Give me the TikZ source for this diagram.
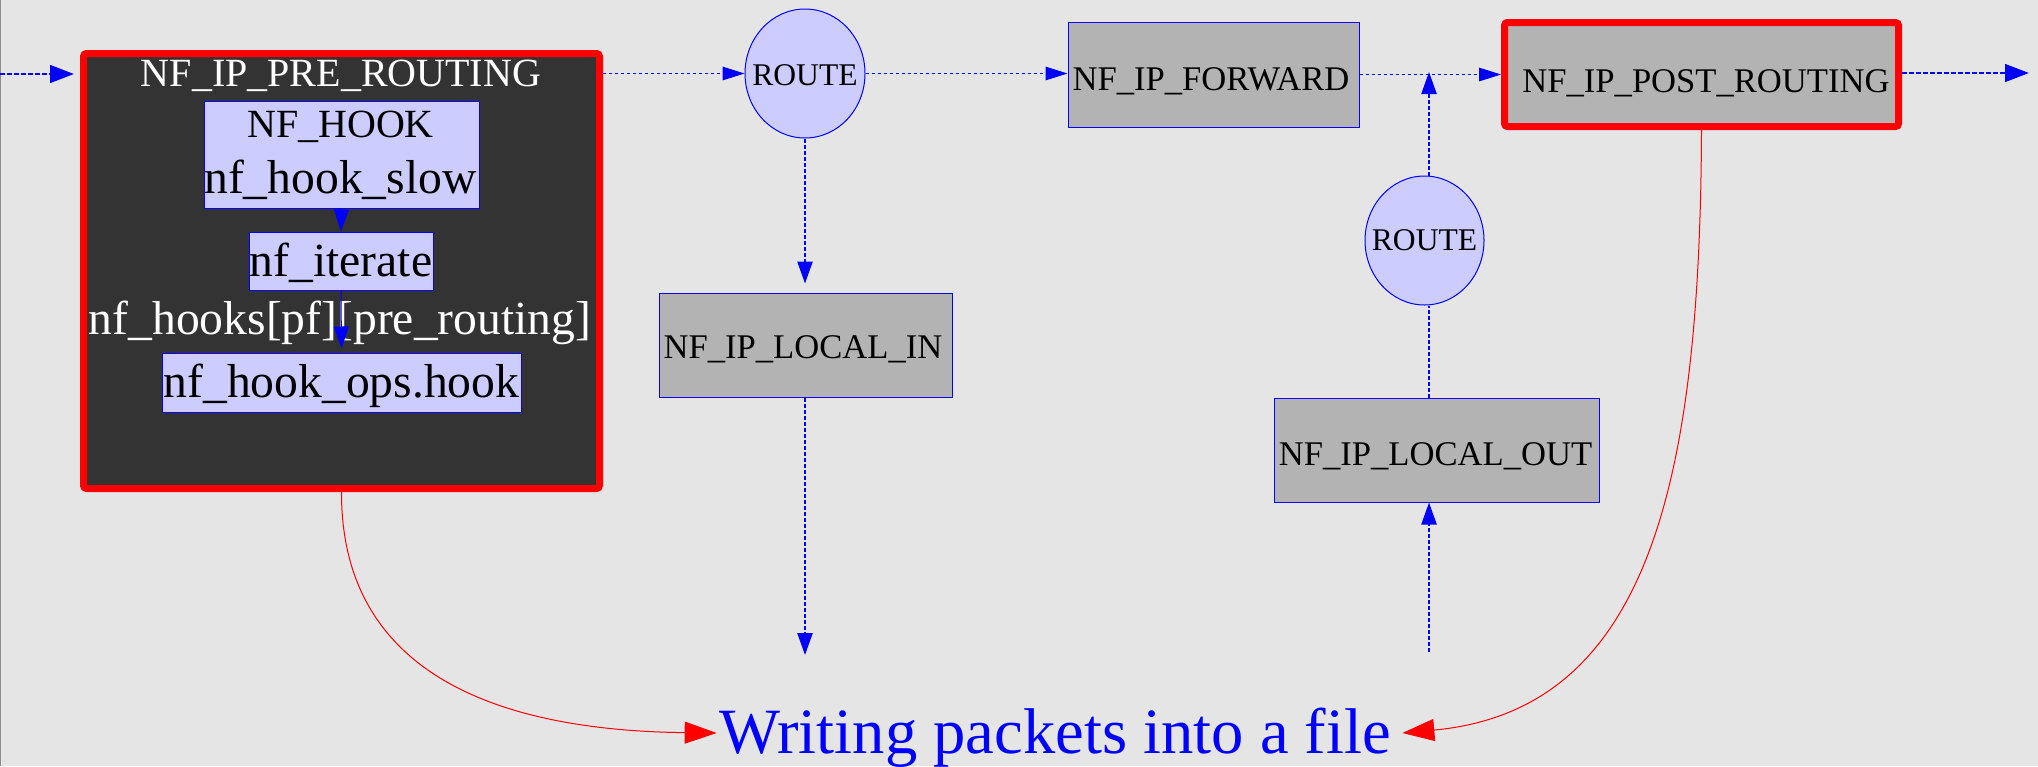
\documentclass[tikz,border=0pt]{standalone}
\usepackage{fontspec}
\setmainfont{Liberation Serif}
\usetikzlibrary{arrows.meta,shapes.geometric}

\definecolor{canvas}{HTML}{E5E5E5}
\definecolor{clusterfill}{HTML}{333333}
\definecolor{callfill}{HTML}{CCCCFF}
\definecolor{hookfill}{HTML}{B3B3B3}
\definecolor{edgegray}{HTML}{8C8C8C}

\newcommand{\fsz}[1]{\fontsize{#1pt}{#1pt}\selectfont}

\tikzset{
  hookbox/.style={rectangle, draw=blue, line width=0.5pt, fill=hookfill, inner sep=0pt},
  callbox/.style={rectangle, draw=blue, line width=0.5pt, fill=callfill, inner sep=0pt},
  routenode/.style={ellipse, draw=blue, line width=0.5pt, fill=callfill, inner sep=0pt,
                    minimum width=60pt, minimum height=64.5pt},
  hotframe/.style={rectangle, draw=red, line width=3.5pt, rounded corners=1.5pt, inner sep=0pt},
  txt/.style={inner sep=0pt, anchor=base},
  flow/.style={blue, line width=0.5pt, dash pattern=on 1.7pt off 1.3pt,
               -{Triangle[length=11pt,width=6.8pt]}},
  vflow/.style={blue, line width=0.9pt, dash pattern=on 2pt off 1pt,
                -{Triangle[length=11pt,width=7.6pt]}},
  vlink/.style={blue, line width=0.9pt, dash pattern=on 2pt off 1pt},
  boundary/.style={blue, line width=1.35pt, dash pattern=on 2.3pt off 1.2pt,
                   -{Triangle[length=12pt,width=8.8pt]}},
  callflow/.style={blue, line width=0.5pt, -{Triangle[length=11pt,width=7.5pt]}},
  dump/.style={red, line width=0.5pt, -{Triangle[length=16pt,width=11pt]}},
}

\begin{document}
\begin{tikzpicture}[x=0.5pt, y=-0.5pt]
  % canvas
  \fill[canvas] (0,0) rectangle (2038,766);
  \useasboundingbox (0,0) rectangle (2038,766);
  \draw[edgegray, line width=0.6pt] (0.6,0) -- (0.6,766);

  % pre-routing cluster with its call chain
  \node[hotframe, fill=clusterfill, minimum width=258pt, minimum height=217.5pt] (pre) at (341.5,271) {};
  \node[txt, text=white, font=\fsz{20}] (pre-title) at (341,86.7) {NF\_IP\_PRE\_ROUTING};

  \node[callbox, minimum width=137.5pt, minimum height=53.5pt] (hook) at (341.5,154.5) {};
  \node[txt, font=\fsz{20}] (hook-a) at (340.5,137.7) {NF\_HOOK};
  \node[txt, font=\fsz{23.8}] (hook-b) at (340.5,193.3) {nf\_hook\_slow};

  \node[callbox, minimum width=92pt, minimum height=29pt] (iter) at (341,261) {};
  \node[txt, font=\fsz{23.8}] (iter-t) at (341,276.7) {nf\_iterate};

  \node[callbox, minimum width=179.5pt, minimum height=29.5pt] (ops) at (341.5,382.5) {};
  \node[txt, font=\fsz{23.8}] (ops-t) at (341.5,397) {nf\_hook\_ops.hook};

  \node[txt, text=white, font=\fsz{23.8}] (hooks-lbl) at (340,334) {nf\_hooks[pf][pre\_routing]};

  \draw[callflow] (hook.south) -- (iter.north);
  \draw[callflow, shorten >=2pt] (iter.south) -- (ops.north);

  % routing decisions
  \node[routenode] (r1) at (805,73.5) {};
  \node[txt, font=\fsz{15.8}] (r1-t) at (805,85) {ROUTE};
  \node[routenode, minimum width=59.5pt] (r2) at (1424.5,240.5) {};
  \node[txt, font=\fsz{15.8}] (r2-t) at (1424.5,250) {ROUTE};

  % hooks
  \node[hookbox, minimum width=145.5pt, minimum height=52.5pt] (fwd) at (1213.5,74.5) {};
  \node[txt, font=\fsz{17.3}] (fwd-t) at (1211,90) {NF\_IP\_FORWARD};

  \node[hookbox, minimum width=146.5pt, minimum height=52pt] (lin) at (805.5,345) {};
  \node[txt, font=\fsz{17.3}] (lin-t) at (803,358.3) {NF\_IP\_LOCAL\_IN};

  \node[hookbox, minimum width=162.5pt, minimum height=52pt] (lout) at (1436.5,450) {};
  \node[txt, font=\fsz{17.3}] (lout-t) at (1435.5,465) {NF\_IP\_LOCAL\_OUT};

  \node[hotframe, fill=hookfill, minimum width=197pt, minimum height=52pt] (post) at (1701.5,74.5) {};
  \node[txt, font=\fsz{17.3}] (post-t) at (1706,92) {NF\_IP\_POST\_ROUTING};

  % capture target
  \node[txt, text=blue, font=\fsz{32.3}] (dumpfile) at (1055,753) {Writing packets into a file};

  % loose ends of the packet path
  \coordinate (src) at (0,74);
  \coordinate (sink) at (2029,73);
  \coordinate (lin-end) at (805,655);
  \coordinate (lout-src) at (1429,652);
  \coordinate (merge) at (1429,72);

  % packet path
  \draw[boundary, shorten >=3pt] (src) -- (pre.west |- src);
  \draw[flow] (pre.east |- r1.west) -- (r1.west);
  \draw[flow] (r1.east) -- (r1.east -| fwd.west);
  \draw[flow] (fwd.east) -- (post.west);
  \draw[boundary] (post.east |- sink) -- (sink);
  \draw[vflow, shorten >=4.5pt] (r1.south) -- (r1.south |- lin.north);
  \draw[vflow] (lin.south -| lin-end) -- (lin-end);
  \draw[vflow] (lout-src) -- (lout-src |- lout.south);
  \draw[vlink] (lout.north -| lout-src) -- (r2.south -| lout-src);
  \draw[vflow] (r2.north -| lout-src) -- (merge);

  % capture taps
  \draw[dump] (pre.south) .. controls (341,650) and (460,730) .. ([xshift=-1pt,yshift=10pt]dumpfile.base west);
  \draw[dump] (post.south) .. controls (1700,480) and (1650,710) .. ([xshift=5.5pt,yshift=10pt]dumpfile.base east);
\end{tikzpicture}
\end{document}
